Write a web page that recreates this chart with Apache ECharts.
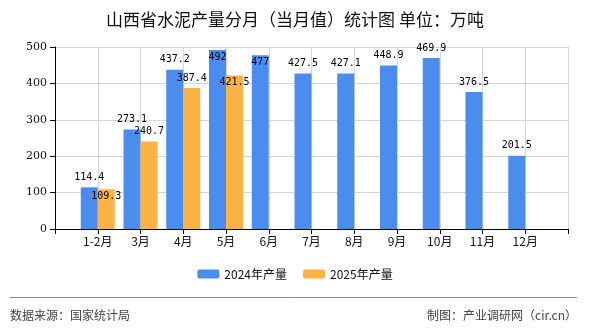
<!DOCTYPE html>
<html><head><meta charset="utf-8">
<script src="https://cdn.jsdelivr.net/npm/echarts@6/dist/echarts.min.js"></script>
<style>html,body{margin:0;padding:0;background:#fff}#c{width:590px;height:330px}</style>
</head><body><div id="c"></div>
<script>
const categories = ['1-2月','3月','4月','5月','6月','7月','8月','9月','10月','11月','12月'];
const seriesNames = ['2024年产量','2025年产量'];
const values2024 = [114.4, 273.1, 437.2, 492, 477, 427.5, 427.1, 448.9, 469.9, 376.5, 201.5];
const values2025 = [109.3, 240.7, 387.4, 421.5];
const yTicks = [0, 100, 200, 300, 400, 500];

const colors = ['#4a8def', '#fbb443'];
const insideIdx = [[3, 4], [0, 3]];

function buildData(vals, k) {
  const out = [null];
  vals.forEach((v, i) => {
    const inside = insideIdx[k].indexOf(i) >= 0;
    out.push({ value: v, label: { position: inside ? 'insideTop' : 'top', distance: inside ? 2 : 5 } });
  });
  return out;
}

const chart = echarts.init(document.getElementById('c'), null, { renderer: 'canvas' });
const labelFont = { fontFamily: 'DejaVu Sans Mono', fontSize: 10, color: '#000' };
chart.setOption({
  animation: false,
  backgroundColor: '#fff',
  title: {
    text: '山西省水泥产量分月（当月值）统计图 单位：万吨',
    left: 'center', top: 6,
    textStyle: { fontFamily: 'Noto Sans CJK SC', fontSize: 17, fontWeight: 'normal', color: '#111' }
  },
  legend: {
    data: seriesNames, bottom: 45, left: 'center',
    itemWidth: 22, itemHeight: 9, itemGap: 16,
    textStyle: { fontFamily: 'Noto Sans CJK SC', fontSize: 12, color: '#111' }
  },
  grid: { left: 55, right: 22, top: 47, bottom: 101, containLabel: false },
  xAxis: {
    type: 'category', boundaryGap: false,
    data: [''].concat(categories).concat(['']),
    axisLine: { lineStyle: { color: '#000' } },
    axisTick: { show: true, length: 5, lineStyle: { color: '#000' } },
    axisLabel: { fontFamily: 'Noto Sans CJK SC', fontSize: 12, color: '#111', margin: 6, interval: 0 },
    splitLine: { show: true, interval: 0, lineStyle: { color: '#d6d6d6' } }
  },
  yAxis: {
    type: 'value', min: yTicks[0], max: yTicks[yTicks.length - 1], interval: 100,
    axisLine: { show: true, lineStyle: { color: '#000' } },
    axisTick: { show: true, length: 5, lineStyle: { color: '#000' } },
    axisLabel: { fontFamily: 'DejaVu Serif', fontSize: 11, color: '#111', margin: 8 },
    splitLine: { lineStyle: { color: '#d6d6d6' } }
  },
  series: [
    { name: seriesNames[0], type: 'bar', barWidth: 17, barGap: '0%', itemStyle: { color: colors[0] },
      label: Object.assign({ show: true }, labelFont), data: buildData(values2024, 0) },
    { name: seriesNames[1], type: 'bar', barWidth: 17, barGap: '0%', itemStyle: { color: colors[1] },
      label: Object.assign({ show: true }, labelFont), data: buildData(values2025, 1) }
  ],
  graphic: [
    { type: 'line', shape: { x1: 10, y1: 297.5, x2: 577, y2: 297.5 }, style: { stroke: '#888', lineWidth: 1 } },
    { type: 'text', left: 10, top: 309, style: { text: '数据来源：国家统计局', font: '12px "Noto Sans CJK SC"', fill: '#444' } },
    { type: 'text', right: 13, top: 309, style: { text: '制图：产业调研网（cir.cn）', font: '12px "Noto Sans CJK SC"', fill: '#444' } }
  ]
});
</script></body></html>
